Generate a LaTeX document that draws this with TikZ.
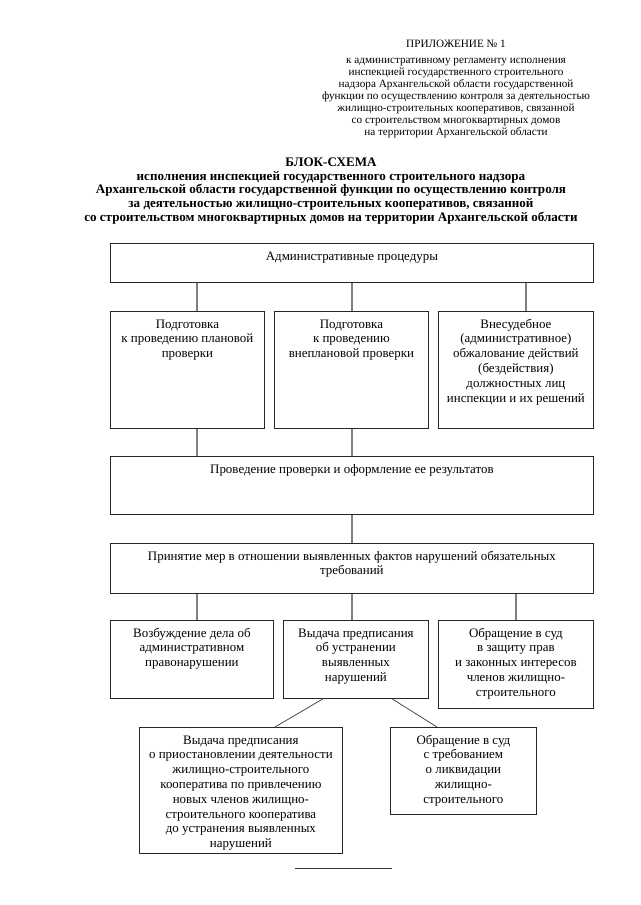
\documentclass[tikz,border=0pt]{standalone}
\usepackage{fontspec}
\setmainfont{Liberation Serif}
\usetikzlibrary{calc}
\newcommand\bxtext[3]{\parbox[c][#2][t]{#1}{\centering\fontsize{9.7}{11.1}\selectfont\rule{0pt}{12.5pt}#3\par}}
\begin{document}
\begin{tikzpicture}[x=0.75pt,y=-0.75pt,
  box/.style={draw=black!85, line width=0.6pt, inner sep=0pt, anchor=north west},
  conn/.style={draw=black!50, line width=0.8pt}]
\useasboundingbox (0,0) rectangle (640,905);
% header
\node[anchor=north, inner sep=0pt, align=center, font=\fontsize{8.4}{9}\selectfont] (hdr) at (456,40)
 {ПРИЛОЖЕНИЕ № 1\\[2.5pt]
  к административному регламенту исполнения\\
  инспекцией государственного строительного\\
  надзора Архангельской области государственной\\
  функции по осуществлению контроля за деятельностью\\
  жилищно-строительных кооперативов, связанной\\
  со строительством многоквартирных домов\\
  на территории Архангельской области};
\node[anchor=north, inner sep=0pt, align=center, font=\fontsize{9.8}{10.3}\selectfont\bfseries] (ttl) at (331,157.5)
 {БЛОК-СХЕМА\\
  исполнения инспекцией государственного строительного надзора\\
  Архангельской области государственной функции по осуществлению контроля\\
  за деятельностью жилищно-строительных кооперативов, связанной\\
  со строительством многоквартирных домов на территории Архангельской области};
% boxes
\node[box] (top) at (110,243) {\bxtext{362.25pt}{29.25pt}{Административные процедуры}};
\node[box] (b1) at (110,311) {\bxtext{115.5pt}{87.75pt}{Подготовка\\к проведению плановой\\проверки}};
\node[box] (b2) at (274,311) {\bxtext{115.5pt}{87.75pt}{Подготовка\\к проведению\\внеплановой проверки}};
\node[box] (b3) at (438,311) {\bxtext{116.25pt}{87.75pt}{Внесудебное\\(административное)\\обжалование действий\\(бездействия)\\должностных лиц\\инспекции и их решений}};
\node[box] (b4) at (110,456) {\bxtext{362.25pt}{43.5pt}{Проведение проверки и оформление ее результатов}};
\node[box] (b5) at (110,543) {\bxtext{362.25pt}{37.5pt}{Принятие мер в отношении выявленных фактов нарушений обязательных\\требований}};
\node[box] (c1) at (110,620) {\bxtext{122.25pt}{58.5pt}{Возбуждение дела об\\административном\\правонарушении}};
\node[box] (c2) at (283,620) {\bxtext{108.75pt}{58.5pt}{Выдача предписания\\об устранении\\выявленных\\нарушений}};
\node[box] (c3) at (438,620) {\bxtext{116.25pt}{66pt}{Обращение в суд\\в защиту прав\\и законных интересов\\членов жилищно-\\строительного}};
\node[box] (d1) at (139,727) {\bxtext{152.25pt}{94.5pt}{Выдача предписания\\о приостановлении деятельности\\жилищно-строительного\\кооператива по привлечению\\новых членов жилищно-\\строительного кооператива\\до устранения выявленных\\нарушений}};
\node[box] (d2) at (390,727) {\bxtext{109.5pt}{65.25pt}{Обращение в суд\\с требованием\\о ликвидации\\жилищно-\\строительного}};
% reference x positions
\coordinate (xa) at (197,0);
\coordinate (xb) at (352,0);
\coordinate (xc) at (526,0);
\coordinate (xd) at (516,0);
\coordinate (xe) at (323,0);
\coordinate (xf) at (275,0);
\coordinate (xg) at (392,0);
\coordinate (xh) at (437,0);
% connectors
\draw[conn] (top.south -| xa) -- (b1.north -| xa);
\draw[conn] (top.south -| xb) -- (b2.north -| xb);
\draw[conn] (top.south -| xc) -- (b3.north -| xc);
\draw[conn] (b1.south -| xa) -- (b4.north -| xa);
\draw[conn] (b2.south -| xb) -- (b4.north -| xb);
\draw[conn] (b4.south -| xb) -- (b5.north -| xb);
\draw[conn] (b5.south -| xa) -- (c1.north -| xa);
\draw[conn] (b5.south -| xb) -- (c2.north -| xb);
\draw[conn] (b5.south -| xd) -- (c3.north -| xd);
\draw[conn, draw=black!70, line width=0.6pt] (c2.south -| xe) -- (d1.north -| xf);
\draw[conn, draw=black!70, line width=0.6pt] (c2.south -| xg) -- (d2.north -| xh);
% footer rule
\draw[black!80, line width=0.6pt] (295,868) -- (392,868);
\end{tikzpicture}
\end{document}
